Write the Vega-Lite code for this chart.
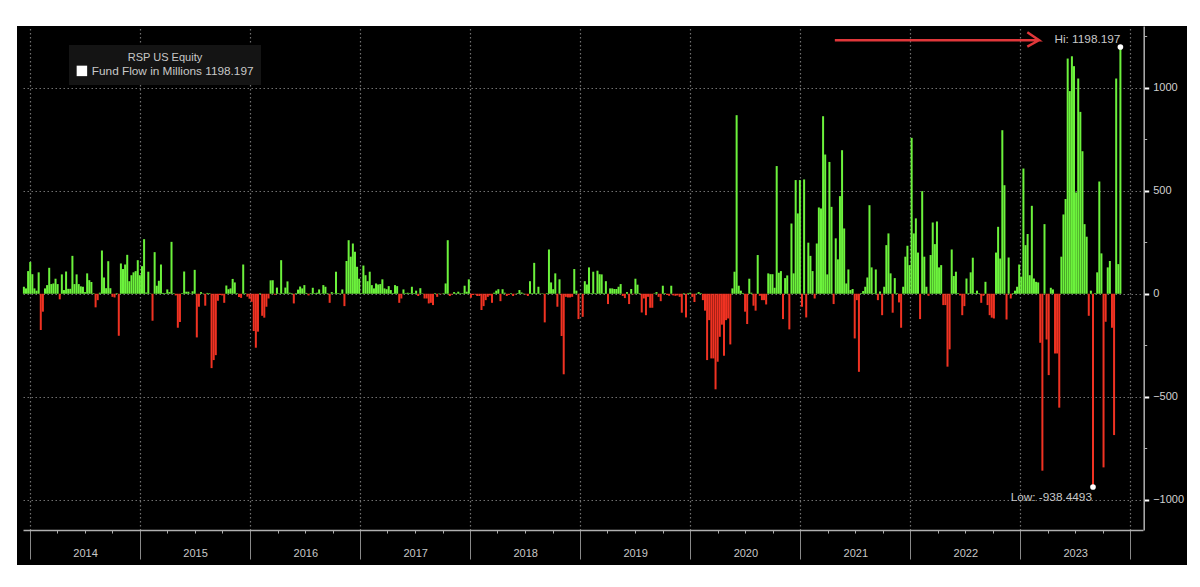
{
"$schema":"https://vega.github.io/schema/vega-lite/v6.json",
"width":1170,"height":539,
"autosize":{"type":"none"},
"padding":{"left":17,"top":26,"right":13,"bottom":22},
"background":"#ffffff",
"view":{"fill":"#000000","stroke":null},
"config":{"font":"Liberation Sans"},
"datasets":{
"flows":[
{"week":"2013-12-11","flow":34},{"week":"2013-12-18","flow":26},{"week":"2013-12-25","flow":110},
{"week":"2014-01-01","flow":154},{"week":"2014-01-08","flow":95},{"week":"2014-01-15","flow":26},{"week":"2014-01-22","flow":15},{"week":"2014-01-29","flow":104},{"week":"2014-02-05","flow":-176},{"week":"2014-02-12","flow":-87},{"week":"2014-02-19","flow":26},{"week":"2014-02-26","flow":42},{"week":"2014-03-05","flow":126},{"week":"2014-03-12","flow":47},{"week":"2014-03-19","flow":50},{"week":"2014-03-26","flow":73},{"week":"2014-04-02","flow":47},{"week":"2014-04-09","flow":-27},{"week":"2014-04-16","flow":94},{"week":"2014-04-23","flow":18},{"week":"2014-04-30","flow":108},{"week":"2014-05-07","flow":24},{"week":"2014-05-14","flow":24},{"week":"2014-05-21","flow":184},{"week":"2014-05-28","flow":47},{"week":"2014-06-04","flow":94},{"week":"2014-06-11","flow":47},{"week":"2014-06-18","flow":36},{"week":"2014-06-25","flow":34},{"week":"2014-07-02","flow":8},{"week":"2014-07-09","flow":99},{"week":"2014-07-16","flow":66},{"week":"2014-07-23","flow":57},{"week":"2014-07-30","flow":3},{"week":"2014-08-06","flow":-66},{"week":"2014-08-13","flow":-31},{"week":"2014-08-20","flow":5},{"week":"2014-08-27","flow":210},{"week":"2014-09-03","flow":79},{"week":"2014-09-10","flow":27},{"week":"2014-09-17","flow":158},{"week":"2014-09-24","flow":27},{"week":"2014-10-01","flow":-15},{"week":"2014-10-08","flow":-18},{"week":"2014-10-15","flow":3},{"week":"2014-10-22","flow":-204},{"week":"2014-10-29","flow":147},{"week":"2014-11-05","flow":120},{"week":"2014-11-12","flow":142},{"week":"2014-11-19","flow":189},{"week":"2014-11-26","flow":61},{"week":"2014-12-03","flow":90},{"week":"2014-12-10","flow":104},{"week":"2014-12-17","flow":110},{"week":"2014-12-24","flow":163},{"week":"2014-12-31","flow":90},
{"week":"2015-01-07","flow":134},{"week":"2015-01-14","flow":265},{"week":"2015-01-21","flow":6},{"week":"2015-01-28","flow":107},{"week":"2015-02-04","flow":2},{"week":"2015-02-11","flow":-131},{"week":"2015-02-18","flow":202},{"week":"2015-02-25","flow":39},{"week":"2015-03-04","flow":63},{"week":"2015-03-11","flow":142},{"week":"2015-03-18","flow":4},{"week":"2015-03-25","flow":3},{"week":"2015-04-01","flow":21},{"week":"2015-04-08","flow":8},{"week":"2015-04-15","flow":252},{"week":"2015-04-22","flow":3},{"week":"2015-04-29","flow":-8},{"week":"2015-05-06","flow":-165},{"week":"2015-05-13","flow":-137},{"week":"2015-05-20","flow":3},{"week":"2015-05-27","flow":108},{"week":"2015-06-03","flow":10},{"week":"2015-06-10","flow":10},{"week":"2015-06-17","flow":2},{"week":"2015-06-24","flow":12},{"week":"2015-07-01","flow":116},{"week":"2015-07-08","flow":-212},{"week":"2015-07-15","flow":-63},{"week":"2015-07-22","flow":8},{"week":"2015-07-29","flow":2},{"week":"2015-08-05","flow":-58},{"week":"2015-08-12","flow":4},{"week":"2015-08-19","flow":3},{"week":"2015-08-26","flow":-361},{"week":"2015-09-02","flow":-322},{"week":"2015-09-09","flow":-298},{"week":"2015-09-16","flow":-34},{"week":"2015-09-23","flow":-6},{"week":"2015-09-30","flow":-8},{"week":"2015-10-07","flow":-44},{"week":"2015-10-14","flow":40},{"week":"2015-10-21","flow":22},{"week":"2015-10-28","flow":26},{"week":"2015-11-04","flow":72},{"week":"2015-11-11","flow":55},{"week":"2015-11-18","flow":3},{"week":"2015-11-25","flow":-16},{"week":"2015-12-02","flow":-20},{"week":"2015-12-09","flow":142},{"week":"2015-12-16","flow":3},{"week":"2015-12-23","flow":-14},{"week":"2015-12-30","flow":-24},
{"week":"2016-01-06","flow":-39},{"week":"2016-01-13","flow":-181},{"week":"2016-01-20","flow":-262},{"week":"2016-01-27","flow":-184},{"week":"2016-02-03","flow":3},{"week":"2016-02-10","flow":-107},{"week":"2016-02-17","flow":-116},{"week":"2016-02-24","flow":-63},{"week":"2016-03-02","flow":-23},{"week":"2016-03-09","flow":65},{"week":"2016-03-16","flow":65},{"week":"2016-03-23","flow":-5},{"week":"2016-03-30","flow":30},{"week":"2016-04-06","flow":2},{"week":"2016-04-13","flow":163},{"week":"2016-04-20","flow":3},{"week":"2016-04-27","flow":30},{"week":"2016-05-04","flow":60},{"week":"2016-05-11","flow":5},{"week":"2016-05-18","flow":3},{"week":"2016-05-25","flow":-47},{"week":"2016-06-01","flow":3},{"week":"2016-06-08","flow":20},{"week":"2016-06-15","flow":35},{"week":"2016-06-22","flow":26},{"week":"2016-06-29","flow":42},{"week":"2016-07-06","flow":4},{"week":"2016-07-13","flow":-8},{"week":"2016-07-20","flow":3},{"week":"2016-07-27","flow":29},{"week":"2016-08-03","flow":3},{"week":"2016-08-10","flow":5},{"week":"2016-08-17","flow":21},{"week":"2016-08-24","flow":2},{"week":"2016-08-31","flow":42},{"week":"2016-09-07","flow":34},{"week":"2016-09-14","flow":3},{"week":"2016-09-21","flow":-44},{"week":"2016-09-28","flow":8},{"week":"2016-10-05","flow":2},{"week":"2016-10-12","flow":107},{"week":"2016-10-19","flow":3},{"week":"2016-10-26","flow":2},{"week":"2016-11-02","flow":21},{"week":"2016-11-09","flow":-60},{"week":"2016-11-16","flow":159},{"week":"2016-11-23","flow":260},{"week":"2016-11-30","flow":180},{"week":"2016-12-07","flow":244},{"week":"2016-12-14","flow":204},{"week":"2016-12-21","flow":131},{"week":"2016-12-28","flow":73},
{"week":"2017-01-04","flow":3},{"week":"2017-01-11","flow":137},{"week":"2017-01-18","flow":90},{"week":"2017-01-25","flow":61},{"week":"2017-02-01","flow":107},{"week":"2017-02-08","flow":42},{"week":"2017-02-15","flow":26},{"week":"2017-02-22","flow":50},{"week":"2017-03-01","flow":45},{"week":"2017-03-08","flow":47},{"week":"2017-03-15","flow":70},{"week":"2017-03-22","flow":26},{"week":"2017-03-29","flow":22},{"week":"2017-04-05","flow":37},{"week":"2017-04-12","flow":18},{"week":"2017-04-19","flow":3},{"week":"2017-04-26","flow":42},{"week":"2017-05-03","flow":37},{"week":"2017-05-10","flow":-44},{"week":"2017-05-17","flow":-23},{"week":"2017-05-24","flow":21},{"week":"2017-05-31","flow":3},{"week":"2017-06-07","flow":5},{"week":"2017-06-14","flow":3},{"week":"2017-06-21","flow":34},{"week":"2017-06-28","flow":3},{"week":"2017-07-05","flow":15},{"week":"2017-07-12","flow":-11},{"week":"2017-07-19","flow":27},{"week":"2017-07-26","flow":2},{"week":"2017-08-02","flow":-23},{"week":"2017-08-09","flow":-23},{"week":"2017-08-16","flow":-47},{"week":"2017-08-23","flow":-44},{"week":"2017-08-30","flow":-55},{"week":"2017-09-06","flow":3},{"week":"2017-09-13","flow":-15},{"week":"2017-09-20","flow":2},{"week":"2017-09-27","flow":-2},{"week":"2017-10-04","flow":3},{"week":"2017-10-11","flow":50},{"week":"2017-10-18","flow":260},{"week":"2017-10-25","flow":-11},{"week":"2017-11-01","flow":-3},{"week":"2017-11-08","flow":8},{"week":"2017-11-15","flow":3},{"week":"2017-11-22","flow":10},{"week":"2017-11-29","flow":3},{"week":"2017-12-06","flow":3},{"week":"2017-12-13","flow":39},{"week":"2017-12-20","flow":10},{"week":"2017-12-27","flow":70},
{"week":"2018-01-03","flow":-19},{"week":"2018-01-10","flow":-6},{"week":"2018-01-17","flow":-3},{"week":"2018-01-24","flow":-11},{"week":"2018-01-31","flow":-11},{"week":"2018-02-07","flow":-79},{"week":"2018-02-14","flow":-60},{"week":"2018-02-21","flow":-31},{"week":"2018-02-28","flow":-15},{"week":"2018-03-07","flow":-8},{"week":"2018-03-14","flow":-44},{"week":"2018-03-21","flow":5},{"week":"2018-03-28","flow":15},{"week":"2018-04-04","flow":22},{"week":"2018-04-11","flow":-36},{"week":"2018-04-18","flow":22},{"week":"2018-04-25","flow":5},{"week":"2018-05-02","flow":-11},{"week":"2018-05-09","flow":-6},{"week":"2018-05-16","flow":3},{"week":"2018-05-23","flow":-11},{"week":"2018-05-30","flow":-3},{"week":"2018-06-06","flow":3},{"week":"2018-06-13","flow":18},{"week":"2018-06-20","flow":6},{"week":"2018-06-27","flow":2},{"week":"2018-07-04","flow":-4},{"week":"2018-07-11","flow":-11},{"week":"2018-07-18","flow":61},{"week":"2018-07-25","flow":3},{"week":"2018-08-01","flow":150},{"week":"2018-08-08","flow":3},{"week":"2018-08-15","flow":34},{"week":"2018-08-22","flow":2},{"week":"2018-08-29","flow":2},{"week":"2018-09-05","flow":-139},{"week":"2018-09-12","flow":3},{"week":"2018-09-19","flow":215},{"week":"2018-09-26","flow":55},{"week":"2018-10-03","flow":22},{"week":"2018-10-10","flow":99},{"week":"2018-10-17","flow":-63},{"week":"2018-10-24","flow":70},{"week":"2018-10-31","flow":-205},{"week":"2018-11-07","flow":-391},{"week":"2018-11-14","flow":-15},{"week":"2018-11-21","flow":-18},{"week":"2018-11-28","flow":-18},{"week":"2018-12-05","flow":-15},{"week":"2018-12-12","flow":120},{"week":"2018-12-19","flow":15},{"week":"2018-12-26","flow":-123},
{"week":"2019-01-02","flow":3},{"week":"2019-01-09","flow":-112},{"week":"2019-01-16","flow":61},{"week":"2019-01-23","flow":45},{"week":"2019-01-30","flow":128},{"week":"2019-02-06","flow":3},{"week":"2019-02-13","flow":107},{"week":"2019-02-20","flow":3},{"week":"2019-02-27","flow":112},{"week":"2019-03-06","flow":95},{"week":"2019-03-13","flow":94},{"week":"2019-03-20","flow":3},{"week":"2019-03-27","flow":61},{"week":"2019-04-03","flow":-50},{"week":"2019-04-10","flow":26},{"week":"2019-04-17","flow":26},{"week":"2019-04-24","flow":23},{"week":"2019-05-01","flow":23},{"week":"2019-05-08","flow":34},{"week":"2019-05-15","flow":47},{"week":"2019-05-22","flow":-11},{"week":"2019-05-29","flow":-21},{"week":"2019-06-05","flow":8},{"week":"2019-06-12","flow":-50},{"week":"2019-06-19","flow":23},{"week":"2019-06-26","flow":-3},{"week":"2019-07-03","flow":73},{"week":"2019-07-10","flow":44},{"week":"2019-07-17","flow":3},{"week":"2019-07-24","flow":-91},{"week":"2019-07-31","flow":-23},{"week":"2019-08-07","flow":-104},{"week":"2019-08-14","flow":-15},{"week":"2019-08-21","flow":-68},{"week":"2019-08-28","flow":-68},{"week":"2019-09-04","flow":2},{"week":"2019-09-11","flow":8},{"week":"2019-09-18","flow":-15},{"week":"2019-09-25","flow":-36},{"week":"2019-10-02","flow":39},{"week":"2019-10-09","flow":3},{"week":"2019-10-16","flow":-6},{"week":"2019-10-23","flow":-10},{"week":"2019-10-30","flow":39},{"week":"2019-11-06","flow":-8},{"week":"2019-11-13","flow":-10},{"week":"2019-11-20","flow":-8},{"week":"2019-11-27","flow":-15},{"week":"2019-12-04","flow":-92},{"week":"2019-12-11","flow":3},{"week":"2019-12-18","flow":-115},{"week":"2019-12-25","flow":3},
{"week":"2020-01-01","flow":5},{"week":"2020-01-08","flow":-15},{"week":"2020-01-15","flow":-40},{"week":"2020-01-22","flow":2},{"week":"2020-01-29","flow":8},{"week":"2020-02-05","flow":3},{"week":"2020-02-12","flow":-31},{"week":"2020-02-19","flow":-82},{"week":"2020-02-26","flow":-322},{"week":"2020-03-04","flow":-128},{"week":"2020-03-11","flow":-314},{"week":"2020-03-18","flow":-314},{"week":"2020-03-25","flow":-464},{"week":"2020-04-01","flow":-330},{"week":"2020-04-08","flow":-209},{"week":"2020-04-15","flow":-150},{"week":"2020-04-22","flow":-301},{"week":"2020-04-29","flow":-128},{"week":"2020-05-06","flow":-120},{"week":"2020-05-13","flow":-246},{"week":"2020-05-20","flow":26},{"week":"2020-05-27","flow":107},{"week":"2020-06-03","flow":867},{"week":"2020-06-10","flow":39},{"week":"2020-06-17","flow":15},{"week":"2020-06-24","flow":3},{"week":"2020-07-01","flow":-87},{"week":"2020-07-08","flow":-147},{"week":"2020-07-15","flow":73},{"week":"2020-07-22","flow":5},{"week":"2020-07-29","flow":-58},{"week":"2020-08-05","flow":-82},{"week":"2020-08-12","flow":188},{"week":"2020-08-19","flow":-10},{"week":"2020-08-26","flow":-31},{"week":"2020-09-02","flow":-31},{"week":"2020-09-09","flow":-52},{"week":"2020-09-16","flow":99},{"week":"2020-09-23","flow":95},{"week":"2020-09-30","flow":95},{"week":"2020-10-07","flow":29},{"week":"2020-10-14","flow":620},{"week":"2020-10-21","flow":102},{"week":"2020-10-28","flow":110},{"week":"2020-11-04","flow":-123},{"week":"2020-11-11","flow":76},{"week":"2020-11-18","flow":89},{"week":"2020-11-25","flow":-173},{"week":"2020-12-02","flow":341},{"week":"2020-12-09","flow":99},{"week":"2020-12-16","flow":552},{"week":"2020-12-23","flow":390},{"week":"2020-12-30","flow":552},
{"week":"2021-01-06","flow":-63},{"week":"2021-01-13","flow":555},{"week":"2021-01-20","flow":-115},{"week":"2021-01-27","flow":248},{"week":"2021-02-03","flow":184},{"week":"2021-02-10","flow":110},{"week":"2021-02-17","flow":-23},{"week":"2021-02-24","flow":244},{"week":"2021-03-03","flow":419},{"week":"2021-03-10","flow":414},{"week":"2021-03-17","flow":862},{"week":"2021-03-24","flow":676},{"week":"2021-03-31","flow":94},{"week":"2021-04-07","flow":640},{"week":"2021-04-14","flow":422},{"week":"2021-04-21","flow":-50},{"week":"2021-04-28","flow":269},{"week":"2021-05-05","flow":167},{"week":"2021-05-12","flow":474},{"week":"2021-05-19","flow":697},{"week":"2021-05-26","flow":317},{"week":"2021-06-02","flow":50},{"week":"2021-06-09","flow":118},{"week":"2021-06-16","flow":18},{"week":"2021-06-23","flow":23},{"week":"2021-06-30","flow":-217},{"week":"2021-07-07","flow":-31},{"week":"2021-07-14","flow":-379},{"week":"2021-07-21","flow":3},{"week":"2021-07-28","flow":13},{"week":"2021-08-04","flow":34},{"week":"2021-08-11","flow":79},{"week":"2021-08-18","flow":430},{"week":"2021-08-25","flow":128},{"week":"2021-09-01","flow":3},{"week":"2021-09-08","flow":118},{"week":"2021-09-15","flow":-31},{"week":"2021-09-22","flow":11},{"week":"2021-09-29","flow":-104},{"week":"2021-10-06","flow":34},{"week":"2021-10-13","flow":236},{"week":"2021-10-20","flow":293},{"week":"2021-10-27","flow":99},{"week":"2021-11-03","flow":-92},{"week":"2021-11-10","flow":76},{"week":"2021-11-17","flow":3},{"week":"2021-11-24","flow":-42},{"week":"2021-12-01","flow":-165},{"week":"2021-12-08","flow":34},{"week":"2021-12-15","flow":180},{"week":"2021-12-22","flow":233},{"week":"2021-12-29","flow":139},
{"week":"2022-01-05","flow":757},{"week":"2022-01-12","flow":293},{"week":"2022-01-19","flow":366},{"week":"2022-01-26","flow":200},{"week":"2022-02-02","flow":-123},{"week":"2022-02-09","flow":498},{"week":"2022-02-16","flow":180},{"week":"2022-02-23","flow":34},{"week":"2022-03-02","flow":-10},{"week":"2022-03-09","flow":188},{"week":"2022-03-16","flow":346},{"week":"2022-03-23","flow":241},{"week":"2022-03-30","flow":351},{"week":"2022-04-06","flow":128},{"week":"2022-04-13","flow":139},{"week":"2022-04-20","flow":-55},{"week":"2022-04-27","flow":-55},{"week":"2022-05-04","flow":-354},{"week":"2022-05-11","flow":-270},{"week":"2022-05-18","flow":215},{"week":"2022-05-25","flow":86},{"week":"2022-06-01","flow":107},{"week":"2022-06-08","flow":3},{"week":"2022-06-15","flow":-8},{"week":"2022-06-22","flow":-104},{"week":"2022-06-29","flow":-60},{"week":"2022-07-06","flow":74},{"week":"2022-07-13","flow":3},{"week":"2022-07-20","flow":104},{"week":"2022-07-27","flow":175},{"week":"2022-08-03","flow":3},{"week":"2022-08-10","flow":15},{"week":"2022-08-17","flow":3},{"week":"2022-08-24","flow":-44},{"week":"2022-08-31","flow":-10},{"week":"2022-09-07","flow":58},{"week":"2022-09-14","flow":-55},{"week":"2022-09-21","flow":-104},{"week":"2022-09-28","flow":-116},{"week":"2022-10-05","flow":-120},{"week":"2022-10-12","flow":200},{"week":"2022-10-19","flow":325},{"week":"2022-10-26","flow":171},{"week":"2022-11-02","flow":794},{"week":"2022-11-09","flow":527},{"week":"2022-11-16","flow":-125},{"week":"2022-11-23","flow":176},{"week":"2022-11-30","flow":-23},{"week":"2022-12-07","flow":3},{"week":"2022-12-14","flow":15},{"week":"2022-12-21","flow":34},{"week":"2022-12-28","flow":142},
{"week":"2023-01-04","flow":83},{"week":"2023-01-11","flow":608},{"week":"2023-01-18","flow":236},{"week":"2023-01-25","flow":290},{"week":"2023-02-01","flow":90},{"week":"2023-02-08","flow":427},{"week":"2023-02-15","flow":74},{"week":"2023-02-22","flow":58},{"week":"2023-03-01","flow":55},{"week":"2023-03-08","flow":-238},{"week":"2023-03-15","flow":-859},{"week":"2023-03-22","flow":338},{"week":"2023-03-29","flow":-222},{"week":"2023-04-05","flow":-395},{"week":"2023-04-12","flow":29},{"week":"2023-04-19","flow":21},{"week":"2023-04-26","flow":-290},{"week":"2023-05-03","flow":-290},{"week":"2023-05-10","flow":-553},{"week":"2023-05-17","flow":180},{"week":"2023-05-24","flow":385},{"week":"2023-05-31","flow":460},{"week":"2023-06-07","flow":1142},{"week":"2023-06-14","flow":984},{"week":"2023-06-21","flow":1153},{"week":"2023-06-28","flow":1105},{"week":"2023-07-05","flow":492},{"week":"2023-07-12","flow":1045},{"week":"2023-07-19","flow":883},{"week":"2023-07-26","flow":692},{"week":"2023-08-02","flow":338},{"week":"2023-08-09","flow":277},{"week":"2023-08-16","flow":-107},{"week":"2023-08-23","flow":15},{"week":"2023-08-30","flow":-938.4493},{"week":"2023-09-06","flow":3},{"week":"2023-09-13","flow":104},{"week":"2023-09-20","flow":545},{"week":"2023-09-27","flow":196},{"week":"2023-10-04","flow":-843},{"week":"2023-10-11","flow":-136},{"week":"2023-10-18","flow":128},{"week":"2023-10-25","flow":159},{"week":"2023-11-01","flow":-165},{"week":"2023-11-08","flow":-686},{"week":"2023-11-15","flow":1045},{"week":"2023-11-22","flow":144},{"week":"2023-11-29","flow":1198.197}
],
"extremes":[
{"week":"2023-11-29","flow":1198.197,"series":"Fund Flow in Millions 1198.197","label":"Hi: 1198.197"},
{"week":"2023-08-30","flow":-938.4493,"series":"Fund Flow in Millions 1198.197","label":"Low: -938.4493"}
],
"arrow":[
{"seq":1,"week":"2021-04-25","flow":1231},
{"seq":2,"week":"2023-03-04","flow":1231},
{"seq":3,"week":"2023-01-24","flow":1270},
{"seq":4,"week":"2023-03-04","flow":1231},
{"seq":5,"week":"2023-01-24","flow":1200}
]
},
"resolve":{"axis":{"x":"independent","y":"independent"}},
"layer":[
{
"data":{"name":"flows"},
"mark":{"type":"bar","size":2},
"encoding":{
"x":{"field":"week","type":"temporal","title":null,
"scale":{"domain":[{"year":2013,"month":12,"date":8},{"year":2024,"month":2,"date":12}],"range":[6,1126],"nice":false,"padding":0},
"axis":{"orient":"top","grid":true,"gridColor":"#707070","gridDash":[1.5,2.5],"gridWidth":1.2,"labels":false,"domain":false,"ticks":false,
"values":[{"year":2014,"month":1,"date":1},{"year":2015,"month":1,"date":1},{"year":2016,"month":1,"date":1},{"year":2017,"month":1,"date":1},{"year":2018,"month":1,"date":1},{"year":2019,"month":1,"date":1},{"year":2020,"month":1,"date":1},{"year":2021,"month":1,"date":1},{"year":2022,"month":1,"date":1},{"year":2023,"month":1,"date":1},{"year":2024,"month":1,"date":1}]}},
"y":{"field":"flow","type":"quantitative","title":null,"stack":null,
"scale":{"domain":[-1147,1300],"range":[504,0],"nice":false,"zero":false},
"axis":{"orient":"left","grid":true,"gridColor":"#707070","gridDash":[1.5,2.5],"gridWidth":1.2,"labels":false,"domain":false,"ticks":false,
"values":[-1000,-500,0,500,1000]}},
"color":{"condition":{"test":"datum.flow>=0","value":"#6cf23c"},"value":"#f03222"}
}
},
{
"data":{"name":"arrow"},
"mark":{"type":"line","color":"#e0373a","strokeWidth":2.4},
"encoding":{
"x":{"field":"week","type":"temporal","title":null,
"axis":{"orient":"bottom","offset":-35,"grid":false,"labels":false,"domain":true,"domainColor":"#b0b0b0","domainWidth":1.5,"tickColor":"#8a8a8a","tickSize":29,"tickWidth":1,
"values":[{"year":2014,"month":1,"date":1},{"year":2015,"month":1,"date":1},{"year":2016,"month":1,"date":1},{"year":2017,"month":1,"date":1},{"year":2018,"month":1,"date":1},{"year":2019,"month":1,"date":1},{"year":2020,"month":1,"date":1},{"year":2021,"month":1,"date":1},{"year":2022,"month":1,"date":1},{"year":2023,"month":1,"date":1},{"year":2024,"month":1,"date":1}]}},
"y":{"field":"flow","type":"quantitative","title":null,
"axis":{"orient":"right","offset":-43.3,"grid":false,"values":[-1000,-500,0,500,1000],"domain":true,"domainColor":"#b0b0b0","domainWidth":1.5,"tickColor":"#ffffff","tickSize":5,"tickWidth":2,
"labelColor":"#d0d0d0","labelFontSize":11,"labelPadding":4,"format":"d"}},
"order":{"field":"seq"}
}
},
{
"data":{"name":"extremes"},
"mark":{"type":"point","filled":true,"opacity":1,"size":32},
"encoding":{
"x":{"field":"week","type":"temporal","title":null,
"axis":{"orient":"bottom","offset":-35,"grid":false,"labels":false,"domain":false,"tickColor":"#b0b0b0","tickSize":3,"tickWidth":1,
"values":[{"year":2014,"month":4,"date":1},{"year":2014,"month":7,"date":1},{"year":2014,"month":10,"date":1},{"year":2015,"month":4,"date":1},{"year":2015,"month":7,"date":1},{"year":2015,"month":10,"date":1},{"year":2016,"month":4,"date":1},{"year":2016,"month":7,"date":1},{"year":2016,"month":10,"date":1},{"year":2017,"month":4,"date":1},{"year":2017,"month":7,"date":1},{"year":2017,"month":10,"date":1},{"year":2018,"month":4,"date":1},{"year":2018,"month":7,"date":1},{"year":2018,"month":10,"date":1},{"year":2019,"month":4,"date":1},{"year":2019,"month":7,"date":1},{"year":2019,"month":10,"date":1},{"year":2020,"month":4,"date":1},{"year":2020,"month":7,"date":1},{"year":2020,"month":10,"date":1},{"year":2021,"month":4,"date":1},{"year":2021,"month":7,"date":1},{"year":2021,"month":10,"date":1},{"year":2022,"month":4,"date":1},{"year":2022,"month":7,"date":1},{"year":2022,"month":10,"date":1},{"year":2023,"month":4,"date":1},{"year":2023,"month":7,"date":1},{"year":2023,"month":10,"date":1}]}},
"y":{"field":"flow","type":"quantitative","title":null,
"axis":{"orient":"right","offset":-43.3,"grid":false,"labels":false,"domain":false,"tickColor":"#b0b0b0","tickSize":3,"tickWidth":1,"values":[-750,-250,250,750,1250]}},
"color":{"field":"series","type":"nominal",
"scale":{"range":["#ffffff"]},
"legend":{"orient":"none","legendX":52,"legendY":19,"title":"RSP US Equity","titleAnchor":"middle","titleAlign":"center","titleColor":"#c8c8c8","titleFontSize":11,"titleFontWeight":"normal","titlePadding":2,"labelColor":"#c8c8c8","labelFontSize":11.8,"labelLimit":300,"symbolType":"square","symbolSize":110,"symbolStrokeWidth":0,"fillColor":"#141414","padding":7}}
}
},
{
"data":{"name":"extremes"},
"transform":[{"filter":"datum.flow>0"}],
"mark":{"type":"text","align":"right","dx":0,"dy":-8,"color":"#c8c8c8","fontSize":11.8},
"encoding":{
"x":{"field":"week","type":"temporal","title":null,
"axis":{"orient":"bottom","offset":-35,"grid":false,"domain":false,"ticks":false,"labelColor":"#c8c8c8","labelFontSize":11,"labelPadding":17,"format":"%Y","labelAlign":"center",
"values":[{"year":2014,"month":7,"date":2},{"year":2015,"month":7,"date":2},{"year":2016,"month":7,"date":2},{"year":2017,"month":7,"date":2},{"year":2018,"month":7,"date":2},{"year":2019,"month":7,"date":2},{"year":2020,"month":7,"date":2},{"year":2021,"month":7,"date":2},{"year":2022,"month":7,"date":2},{"year":2023,"month":7,"date":2}]}},
"y":{"field":"flow","type":"quantitative","axis":null},
"text":{"field":"label"}
}
},
{
"data":{"name":"extremes"},
"transform":[{"filter":"datum.flow<0"}],
"mark":{"type":"text","align":"right","dx":-1,"dy":10,"color":"#c8c8c8","fontSize":11.8},
"encoding":{
"x":{"field":"week","type":"temporal","axis":null},
"y":{"field":"flow","type":"quantitative","axis":null},
"text":{"field":"label"}
}
}
]
}
